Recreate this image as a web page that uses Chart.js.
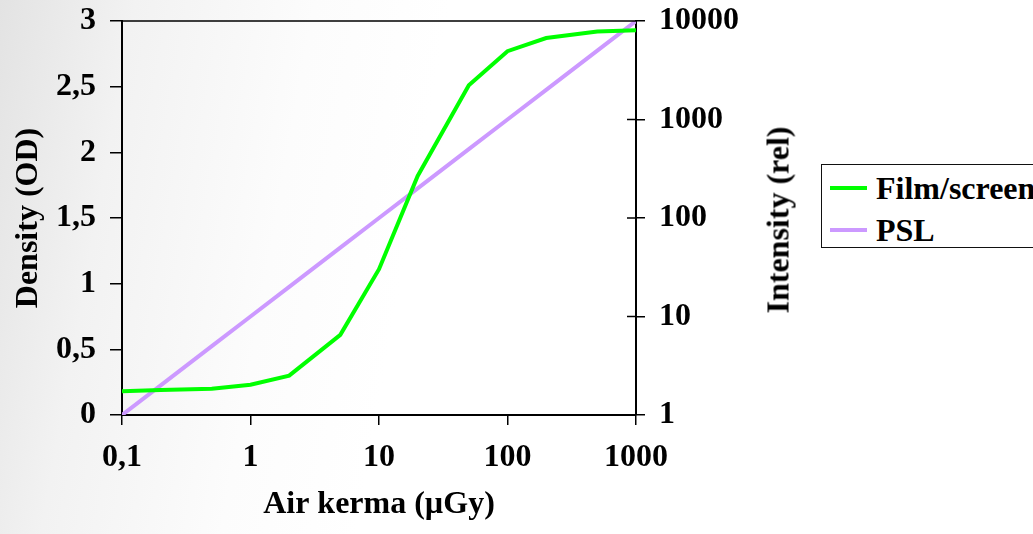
<!DOCTYPE html>
<html>
<head>
<meta charset="utf-8">
<script src="https://cdn.jsdelivr.net/npm/chart.js@4.4.0/dist/chart.umd.min.js"></script>
<style>
  html, body { margin: 0; padding: 0; }
  body {
    width: 1033px; height: 534px; overflow: hidden; position: relative;
    background: linear-gradient(100deg, #e3e3e3 0%, #f2f2f2 12%, #fcfcfc 28%, #ffffff 40%);
    font-family: "Liberation Serif", "Times New Roman", serif;
  }
  #chart { position: absolute; left: 0; top: 0; }
  #legend {
    position: absolute; left: 821px; top: 164px; width: 260px; height: 84px;
    border: 1.5px solid #111; background: #fff; box-sizing: border-box;
  }
  .item { position: absolute; left: 0; height: 36px; line-height: 36px;
    font-weight: bold; font-size: 32px; color: #000; white-space: nowrap; }
  .item .swatch { position: absolute; left: 8px; top: 16px; width: 37px; height: 4px; }
  .item span.txt { position: absolute; left: 54px; top: 0; }
  #rtitle {
    position: absolute; left: 778px; top: 220px; white-space: nowrap;
    font-weight: bold; font-size: 32px; color: #000;
    transform: translate(-50%, -50%) rotate(-90deg);
  }
</style>
</head>
<body>
<canvas id="chart" width="1033" height="534"></canvas>
<div id="rtitle">Intensity (rel)</div>
<div id="legend"></div>
<script>
// ================= DATA =================
const airKerma = [0.1, 0.2, 0.5, 1, 2, 5, 10, 20, 50, 100, 200, 500, 1000];
const filmDensity = [0.18, 0.19, 0.20, 0.23, 0.30, 0.61, 1.11, 1.82, 2.51, 2.77, 2.87, 2.92, 2.93];
const pslIntensity = [1, 2, 5, 10, 20, 50, 100, 200, 500, 1000, 2000, 5000, 10000];

const xTicks = [0.1, 1, 10, 100, 1000];
const leftTicks = [0, 0.5, 1, 1.5, 2, 2.5, 3];
const rightTicks = [1, 10, 100, 1000, 10000];

const seriesNames = ["Film/screen", "PSL"];
const seriesColors = ["#00ff00", "#cc99ff"];

// ================= HELPERS =================
const comma = v => String(v).replace('.', ',');
const FONT = { family: "'Liberation Serif', 'Times New Roman', serif", size: 32, weight: 'bold' };

// fixed axis sizes, no extra label padding
function fixWidth(w) {
    return s => { s.width = w; s.paddingTop = 0; s.paddingBottom = 0; };
}

// frame + inner ticks on right axis
const framePlugin = {
    id: 'frame',
    afterDraw(chart) {
        const { ctx, chartArea: a } = chart;
        const r = chart.scales.y1;
        ctx.save();
        ctx.strokeStyle = '#000';
        ctx.lineWidth = 1.5;
        ctx.beginPath();
        ctx.moveTo(a.left, a.top);
        ctx.lineTo(a.right, a.top);
        rightTicks.forEach(v => {
            const y = r.getPixelForValue(v);
            ctx.moveTo(a.right - 9, y);
            ctx.lineTo(a.right, y);
        });
        ctx.stroke();
        ctx.restore();
    }
};

// ================= CHART =================
new Chart(document.getElementById('chart').getContext('2d'), {
    type: 'line',
    data: {
        datasets: [
            {
                label: seriesNames[0],
                data: airKerma.map((x, i) => ({ x: x, y: filmDensity[i] })),
                borderColor: seriesColors[0],
                borderWidth: 4,
                pointRadius: 0,
                tension: 0,
                yAxisID: 'y'
            },
            {
                label: seriesNames[1],
                data: airKerma.map((x, i) => ({ x: x, y: pslIntensity[i] })),
                borderColor: seriesColors[1],
                borderWidth: 4,
                pointRadius: 0,
                tension: 0,
                yAxisID: 'y1'
            }
        ]
    },
    options: {
        responsive: false,
        animation: false,
        layout: { padding: { top: 21, left: 0, right: 0, bottom: 0 } },
        plugins: { legend: { display: false }, tooltip: { enabled: false } },
        scales: {
            x: {
                type: 'logarithmic',
                position: 'bottom',
                min: 0.1, max: 1000,
                afterBuildTicks: s => { s.ticks = xTicks.map(v => ({ value: v })); },
                afterFit: s => { s.height = 119; },
                ticks: { color: '#000', font: FONT, padding: 14, maxRotation: 0, autoSkip: false,
                    callback: v => comma(v) },
                grid: { drawOnChartArea: false, drawTicks: true, tickLength: 10, color: '#000', lineWidth: 1.5 },
                border: { display: true, color: '#000', width: 2 },
                title: { display: true, text: 'Air kerma (µGy)', color: '#000', font: FONT, padding: { top: 4, bottom: 10 } }
            },
            y: {
                type: 'linear',
                position: 'left',
                min: 0, max: 3,
                afterBuildTicks: s => { s.ticks = leftTicks.map(v => ({ value: v })); },
                afterFit: fixWidth(122),
                ticks: { color: '#000', font: FONT, padding: 14, callback: v => comma(v) },
                grid: { drawOnChartArea: false, drawTicks: true, tickLength: 12, color: '#000', lineWidth: 1.5 },
                border: { display: true, color: '#000', width: 2 },
                title: { display: true, text: 'Density (OD)', color: '#000', font: FONT, padding: { top: 10, bottom: 0 } }
            },
            y1: {
                type: 'logarithmic',
                position: 'right',
                min: 1, max: 10000,
                afterBuildTicks: s => { s.ticks = rightTicks.map(v => ({ value: v })); },
                afterFit: fixWidth(397),
                ticks: { color: '#000', font: FONT, padding: 14, callback: v => String(v) },
                grid: { drawOnChartArea: false, drawTicks: true, tickLength: 9, color: '#000', lineWidth: 1.5 },
                border: { display: true, color: '#000', width: 2 }
            }
        }
    },
    plugins: [framePlugin]
});

// ================= LEGEND =================
const legend = document.getElementById('legend');
seriesNames.forEach((name, i) => {
    const item = document.createElement('div');
    item.className = 'item';
    item.style.top = (5 + i * 42) + 'px';
    item.innerHTML = '<div class="swatch" style="background:' + seriesColors[i] + '"></div><span class="txt">' + name + '</span>';
    legend.appendChild(item);
});
</script>
</body>
</html>
